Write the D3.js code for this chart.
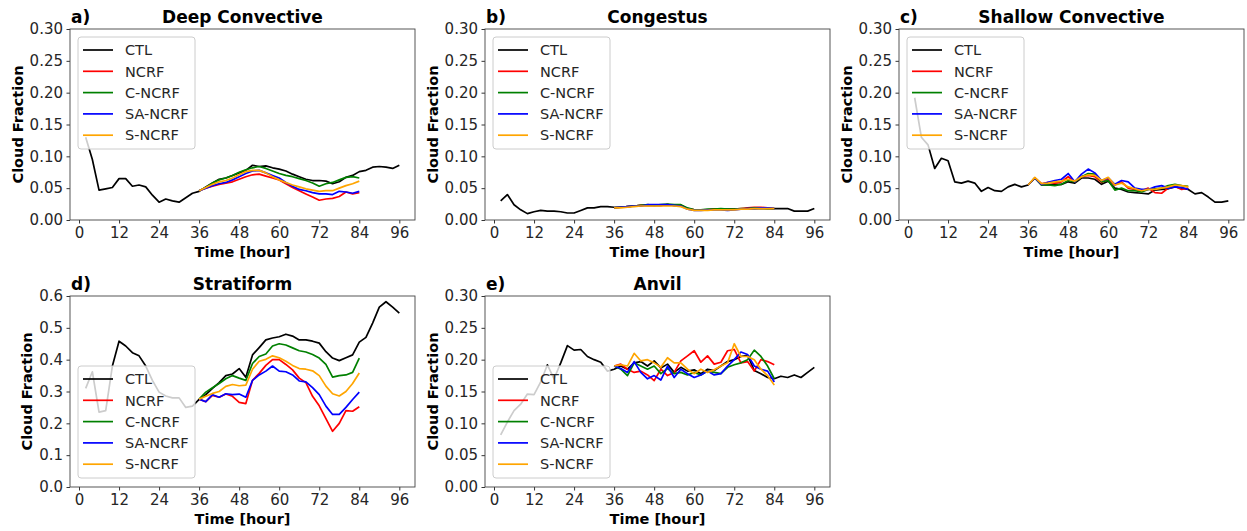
<!DOCTYPE html>
<html>
<head>
<meta charset="utf-8">
<script src="https://cdn.jsdelivr.net/npm/d3@7"></script>
<style>
  body { margin: 0; background: #fff; }
  svg { display: block; font-family: "DejaVu Sans", sans-serif; }
</style>
</head>
<body>
<svg id="chart" width="1247" height="531"></svg>
<script>
// hours on the x axis
const ctlHours = d3.range(2, 97, 2)
const expHours = d3.range(36, 85, 2)
const xTicks = [0, 12, 24, 36, 48, 60, 72, 84, 96]

const seriesNames = ["CTL", "NCRF", "C-NCRF", "SA-NCRF", "S-NCRF"]
const seriesColors = ["#000000", "#ff0000", "#008000", "#0000ff", "#ffa500"]

// a) Deep Convective
const deepCTL = [0.130, 0.095, 0.047, 0.049, 0.051, 0.065, 0.065, 0.053, 0.055, 0.052, 0.039, 0.028,
  0.033, 0.030, 0.028, 0.035, 0.042, 0.045, 0.052, 0.058, 0.064, 0.066, 0.070, 0.074,
  0.078, 0.086, 0.084, 0.085, 0.082, 0.080, 0.077, 0.072, 0.068, 0.064, 0.062, 0.062,
  0.061, 0.057, 0.060, 0.067, 0.070, 0.076, 0.078, 0.083, 0.084, 0.083, 0.081, 0.086]
const deepNCRF = [0.046, 0.050, 0.053, 0.056, 0.058, 0.060, 0.064, 0.068, 0.071, 0.072, 0.069, 0.066, 0.063,
  0.057, 0.051, 0.046, 0.041, 0.036, 0.031, 0.033, 0.034, 0.037, 0.044, 0.041, 0.043]
const deepCNCRF = [0.046, 0.051, 0.058, 0.063, 0.066, 0.070, 0.075, 0.079, 0.082, 0.084, 0.081, 0.077, 0.073,
  0.070, 0.068, 0.065, 0.062, 0.058, 0.053, 0.057, 0.059, 0.063, 0.067, 0.068, 0.066]
const deepSANCRF = [0.046, 0.050, 0.054, 0.057, 0.059, 0.063, 0.068, 0.073, 0.077, 0.078, 0.074, 0.070, 0.066,
  0.059, 0.053, 0.048, 0.046, 0.043, 0.041, 0.041, 0.040, 0.045, 0.044, 0.042, 0.045]
const deepSNCRF = [0.046, 0.051, 0.056, 0.060, 0.062, 0.066, 0.071, 0.076, 0.078, 0.078, 0.074, 0.068, 0.063,
  0.059, 0.055, 0.052, 0.049, 0.047, 0.045, 0.046, 0.046, 0.050, 0.054, 0.057, 0.061]

// b) Congestus
const congCTL = [0.030, 0.040, 0.024, 0.016, 0.010, 0.013, 0.015, 0.014, 0.014, 0.013, 0.011, 0.011,
  0.015, 0.019, 0.019, 0.021, 0.021, 0.020, 0.020, 0.021, 0.022, 0.023, 0.023, 0.023,
  0.023, 0.024, 0.023, 0.023, 0.018, 0.016, 0.016, 0.016, 0.017, 0.017, 0.017, 0.017,
  0.017, 0.018, 0.018, 0.018, 0.018, 0.018, 0.018, 0.018, 0.014, 0.014, 0.014, 0.018]
const congNCRF = [0.019, 0.020, 0.021, 0.022, 0.023, 0.023, 0.023, 0.023, 0.024, 0.023, 0.023, 0.018, 0.016,
  0.016, 0.016, 0.017, 0.017, 0.016, 0.017, 0.018, 0.019, 0.020, 0.020, 0.019, 0.018]
const congCNCRF = [0.019, 0.020, 0.021, 0.022, 0.023, 0.024, 0.023, 0.024, 0.025, 0.024, 0.024, 0.019, 0.016,
  0.016, 0.017, 0.017, 0.018, 0.017, 0.017, 0.018, 0.018, 0.019, 0.019, 0.018, 0.018]
const congSANCRF = [0.019, 0.020, 0.021, 0.022, 0.022, 0.024, 0.024, 0.024, 0.024, 0.023, 0.022, 0.017, 0.015,
  0.015, 0.016, 0.016, 0.016, 0.015, 0.016, 0.017, 0.018, 0.018, 0.019, 0.019, 0.018]
const congSNCRF = [0.019, 0.019, 0.020, 0.021, 0.022, 0.022, 0.022, 0.022, 0.022, 0.022, 0.021, 0.017, 0.015,
  0.015, 0.015, 0.016, 0.016, 0.016, 0.016, 0.017, 0.017, 0.018, 0.018, 0.018, 0.018]

// c) Shallow Convective
const shalCTL = [0.192, 0.130, 0.118, 0.081, 0.097, 0.093, 0.060, 0.058, 0.061, 0.058, 0.045, 0.051,
  0.046, 0.045, 0.052, 0.056, 0.052, 0.055, 0.066, 0.055, 0.055, 0.056, 0.056, 0.060,
  0.058, 0.066, 0.066, 0.064, 0.056, 0.061, 0.050, 0.048, 0.044, 0.043, 0.042, 0.041,
  0.047, 0.048, 0.049, 0.052, 0.050, 0.048, 0.041, 0.043, 0.036, 0.028, 0.028, 0.030]
const shalNCRF = [0.055, 0.066, 0.057, 0.059, 0.058, 0.060, 0.068, 0.060, 0.068, 0.070, 0.068, 0.059, 0.064,
  0.055, 0.060, 0.050, 0.048, 0.046, 0.050, 0.043, 0.042, 0.050, 0.053, 0.048, 0.050]
const shalCNCRF = [0.055, 0.066, 0.055, 0.055, 0.054, 0.056, 0.062, 0.060, 0.068, 0.073, 0.072, 0.060, 0.062,
  0.047, 0.050, 0.046, 0.046, 0.044, 0.048, 0.049, 0.050, 0.054, 0.056, 0.054, 0.053]
const shalSANCRF = [0.055, 0.066, 0.056, 0.059, 0.062, 0.064, 0.073, 0.060, 0.072, 0.080, 0.074, 0.062, 0.066,
  0.056, 0.062, 0.060, 0.050, 0.048, 0.048, 0.052, 0.054, 0.050, 0.052, 0.051, 0.048]
const shalSNCRF = [0.055, 0.067, 0.057, 0.058, 0.060, 0.061, 0.064, 0.061, 0.068, 0.071, 0.070, 0.062, 0.067,
  0.055, 0.058, 0.052, 0.049, 0.046, 0.048, 0.048, 0.050, 0.052, 0.055, 0.054, 0.052]

// d) Stratiform
const stratCTL = [0.310, 0.362, 0.235, 0.240, 0.380, 0.458, 0.443, 0.422, 0.412, 0.380, 0.335, 0.298,
  0.286, 0.280, 0.280, 0.250, 0.254, 0.275, 0.290, 0.310, 0.328, 0.350, 0.355, 0.372,
  0.345, 0.415, 0.438, 0.462, 0.468, 0.472, 0.480, 0.474, 0.462, 0.462, 0.458, 0.452,
  0.425, 0.405, 0.397, 0.406, 0.415, 0.455, 0.470, 0.515, 0.565, 0.582, 0.565, 0.546]
const stratNCRF = [0.276, 0.268, 0.288, 0.282, 0.292, 0.285, 0.266, 0.262, 0.335, 0.357, 0.382, 0.400, 0.400,
  0.385, 0.368, 0.342, 0.328, 0.285, 0.255, 0.215, 0.175, 0.200, 0.240, 0.238, 0.252]
const stratCNCRF = [0.276, 0.298, 0.312, 0.325, 0.340, 0.350, 0.342, 0.335, 0.388, 0.410, 0.418, 0.443, 0.450,
  0.446, 0.437, 0.428, 0.424, 0.416, 0.405, 0.385, 0.345, 0.350, 0.352, 0.360, 0.405]
const stratSANCRF = [0.276, 0.268, 0.290, 0.282, 0.293, 0.290, 0.292, 0.282, 0.335, 0.352, 0.364, 0.380, 0.364,
  0.362, 0.352, 0.333, 0.330, 0.312, 0.290, 0.254, 0.228, 0.228, 0.250, 0.275, 0.298]
const stratSNCRF = [0.276, 0.285, 0.294, 0.300, 0.316, 0.322, 0.318, 0.320, 0.370, 0.395, 0.401, 0.412, 0.406,
  0.395, 0.382, 0.372, 0.370, 0.365, 0.350, 0.317, 0.293, 0.286, 0.300, 0.325, 0.358]

// e) Anvil
const anvilCTL = [0.082, 0.102, 0.120, 0.130, 0.146, 0.145, 0.165, 0.192, 0.170, 0.195, 0.222, 0.215,
  0.216, 0.205, 0.200, 0.196, 0.182, 0.185, 0.190, 0.185, 0.195, 0.197, 0.190, 0.198,
  0.187, 0.193, 0.180, 0.188, 0.182, 0.184, 0.178, 0.185, 0.183, 0.190, 0.197, 0.200,
  0.205, 0.207, 0.183, 0.178, 0.172, 0.170, 0.174, 0.172, 0.176, 0.172, 0.180, 0.188]
const anvilNCRF = [0.190, 0.193, 0.185, 0.180, 0.182, 0.176, 0.167, 0.185, 0.175, 0.180, 0.198, 0.206, 0.214,
  0.196, 0.206, 0.193, 0.196, 0.214, 0.216, 0.195, 0.197, 0.182, 0.200, 0.197, 0.192]
const anvilCNCRF = [0.190, 0.185, 0.175, 0.195, 0.190, 0.185, 0.190, 0.178, 0.186, 0.178, 0.180, 0.176, 0.180,
  0.176, 0.182, 0.180, 0.178, 0.188, 0.192, 0.195, 0.200, 0.215, 0.205, 0.190, 0.170]
const anvilSANCRF = [0.190, 0.186, 0.180, 0.197, 0.180, 0.170, 0.175, 0.168, 0.190, 0.172, 0.185, 0.178, 0.172,
  0.176, 0.182, 0.176, 0.178, 0.190, 0.200, 0.212, 0.208, 0.190, 0.185, 0.182, 0.165]
const anvilSNCRF = [0.190, 0.192, 0.190, 0.210, 0.198, 0.200, 0.195, 0.188, 0.203, 0.195, 0.195, 0.185, 0.178,
  0.185, 0.180, 0.184, 0.190, 0.195, 0.225, 0.205, 0.205, 0.200, 0.185, 0.175, 0.160]

const yTicks03 = [0, 0.05, 0.10, 0.15, 0.20, 0.25, 0.30]
const yTicks06 = [0, 0.1, 0.2, 0.3, 0.4, 0.5, 0.6]

// panel placement (axes box in pixels)
const panels = [
  { tag: "a)", title: "Deep Convective", left: 70, top: 29, ctl: deepCTL,
    exps: [deepNCRF, deepCNCRF, deepSANCRF, deepSNCRF], yMax: 0.3, yTicks: yTicks03, fmt: ".2f", legendLow: false },
  { tag: "b)", title: "Congestus", left: 485, top: 29, ctl: congCTL,
    exps: [congNCRF, congCNCRF, congSANCRF, congSNCRF], yMax: 0.3, yTicks: yTicks03, fmt: ".2f", legendLow: false },
  { tag: "c)", title: "Shallow Convective", left: 899, top: 29, ctl: shalCTL,
    exps: [shalNCRF, shalCNCRF, shalSANCRF, shalSNCRF], yMax: 0.3, yTicks: yTicks03, fmt: ".2f", legendLow: false },
  { tag: "d)", title: "Stratiform", left: 70, top: 296, ctl: stratCTL,
    exps: [stratNCRF, stratCNCRF, stratSANCRF, stratSNCRF], yMax: 0.6, yTicks: yTicks06, fmt: ".1f", legendLow: true },
  { tag: "e)", title: "Anvil", left: 485, top: 296, ctl: anvilCTL,
    exps: [anvilNCRF, anvilCNCRF, anvilSANCRF, anvilSNCRF], yMax: 0.3, yTicks: yTicks03, fmt: ".2f", legendLow: true }
]

const axW = 345
const axH = 191

const svg = d3.select("#chart")
svg.append("rect").attr("width", 1247).attr("height", 531).attr("fill", "#fff")

panels.forEach(p => {
  const g = svg.append("g").attr("transform", `translate(${p.left},${p.top})`)

  const x = d3.scaleLinear().domain([-2.7, 100.7]).range([0, axW])
  const y = d3.scaleLinear().domain([0, p.yMax]).range([axH, 0])

  // x axis
  const xAxis = g.append("g")
    .attr("transform", `translate(0,${axH})`)
    .call(d3.axisBottom(x).tickValues(xTicks).tickSize(3.5).tickPadding(3.5).tickFormat(d3.format("d")))
  // y axis
  const yAxis = g.append("g")
    .call(d3.axisLeft(y).tickValues(p.yTicks).tickSize(3.5).tickPadding(3.5).tickFormat(d3.format(p.fmt)))

  ;[xAxis, yAxis].forEach(ax => {
    ax.select(".domain").remove()
    ax.selectAll(".tick line").attr("stroke", "#000").attr("stroke-width", 0.8)
    ax.selectAll(".tick text").attr("fill", "#262626").style("font-size", "15px")
      .style("font-family", "'DejaVu Sans', sans-serif")
  })

  // lines
  const line = d3.line().x(d => x(d[0])).y(d => y(d[1]))
  const allSeries = [
    { name: seriesNames[0], color: seriesColors[0], pts: ctlHours.map((h, i) => [h, p.ctl[i]]) }
  ].concat(p.exps.map((vals, k) => ({
    name: seriesNames[k + 1], color: seriesColors[k + 1], pts: expHours.map((h, i) => [h, vals[i]])
  })))

  g.selectAll("path.series").data(allSeries).enter().append("path")
    .attr("class", "series")
    .attr("d", d => line(d.pts))
    .attr("fill", "none")
    .attr("stroke", d => d.color)
    .attr("stroke-width", 1.7)
    .attr("stroke-linejoin", "round")

  // frame
  g.append("rect").attr("width", axW).attr("height", axH)
    .attr("fill", "none").attr("stroke", "#444").attr("stroke-width", 0.9)

  // legend
  const lgW = 117, lgH = 112
  const lgX = 8
  const lgY = p.legendLow ? axH - 9 - lgH : 8
  const lg = g.append("g").attr("transform", `translate(${lgX},${lgY})`)
  lg.append("rect").attr("width", lgW).attr("height", lgH).attr("rx", 3)
    .attr("fill", "rgba(255,255,255,0.8)").attr("stroke", "#cccccc").attr("stroke-width", 1)
  allSeries.forEach((s, i) => {
    const yy = 13 + i * 21.3
    lg.append("line").attr("x1", 5).attr("x2", 35).attr("y1", yy).attr("y2", yy)
      .attr("stroke", s.color).attr("stroke-width", 1.7)
    lg.append("text").attr("x", 47).attr("y", yy).attr("dy", "0.36em")
      .style("font-size", "14.5px").attr("fill", "#262626").text(s.name)
  })

  // titles
  g.append("text").attr("x", 1).attr("y", -6)
    .style("font-size", "17px").style("font-weight", "bold").text(p.tag)
  g.append("text").attr("x", axW / 2).attr("y", -6).attr("text-anchor", "middle")
    .style("font-size", "17px").style("font-weight", "bold").text(p.title)

  // axis labels
  g.append("text").attr("x", axW / 2).attr("y", axH + 37).attr("text-anchor", "middle")
    .style("font-size", "14.5px").style("font-weight", "bold").text("Time [hour]")
  const yLabX = p.yMax > 0.3 ? -43 : -52
  g.append("text")
    .attr("transform", `translate(${yLabX},${axH / 2}) rotate(-90)`)
    .attr("text-anchor", "middle").attr("dy", "0.36em")
    .style("font-size", "14.5px").style("font-weight", "bold").text("Cloud Fraction")
})
</script>
</body>
</html>
